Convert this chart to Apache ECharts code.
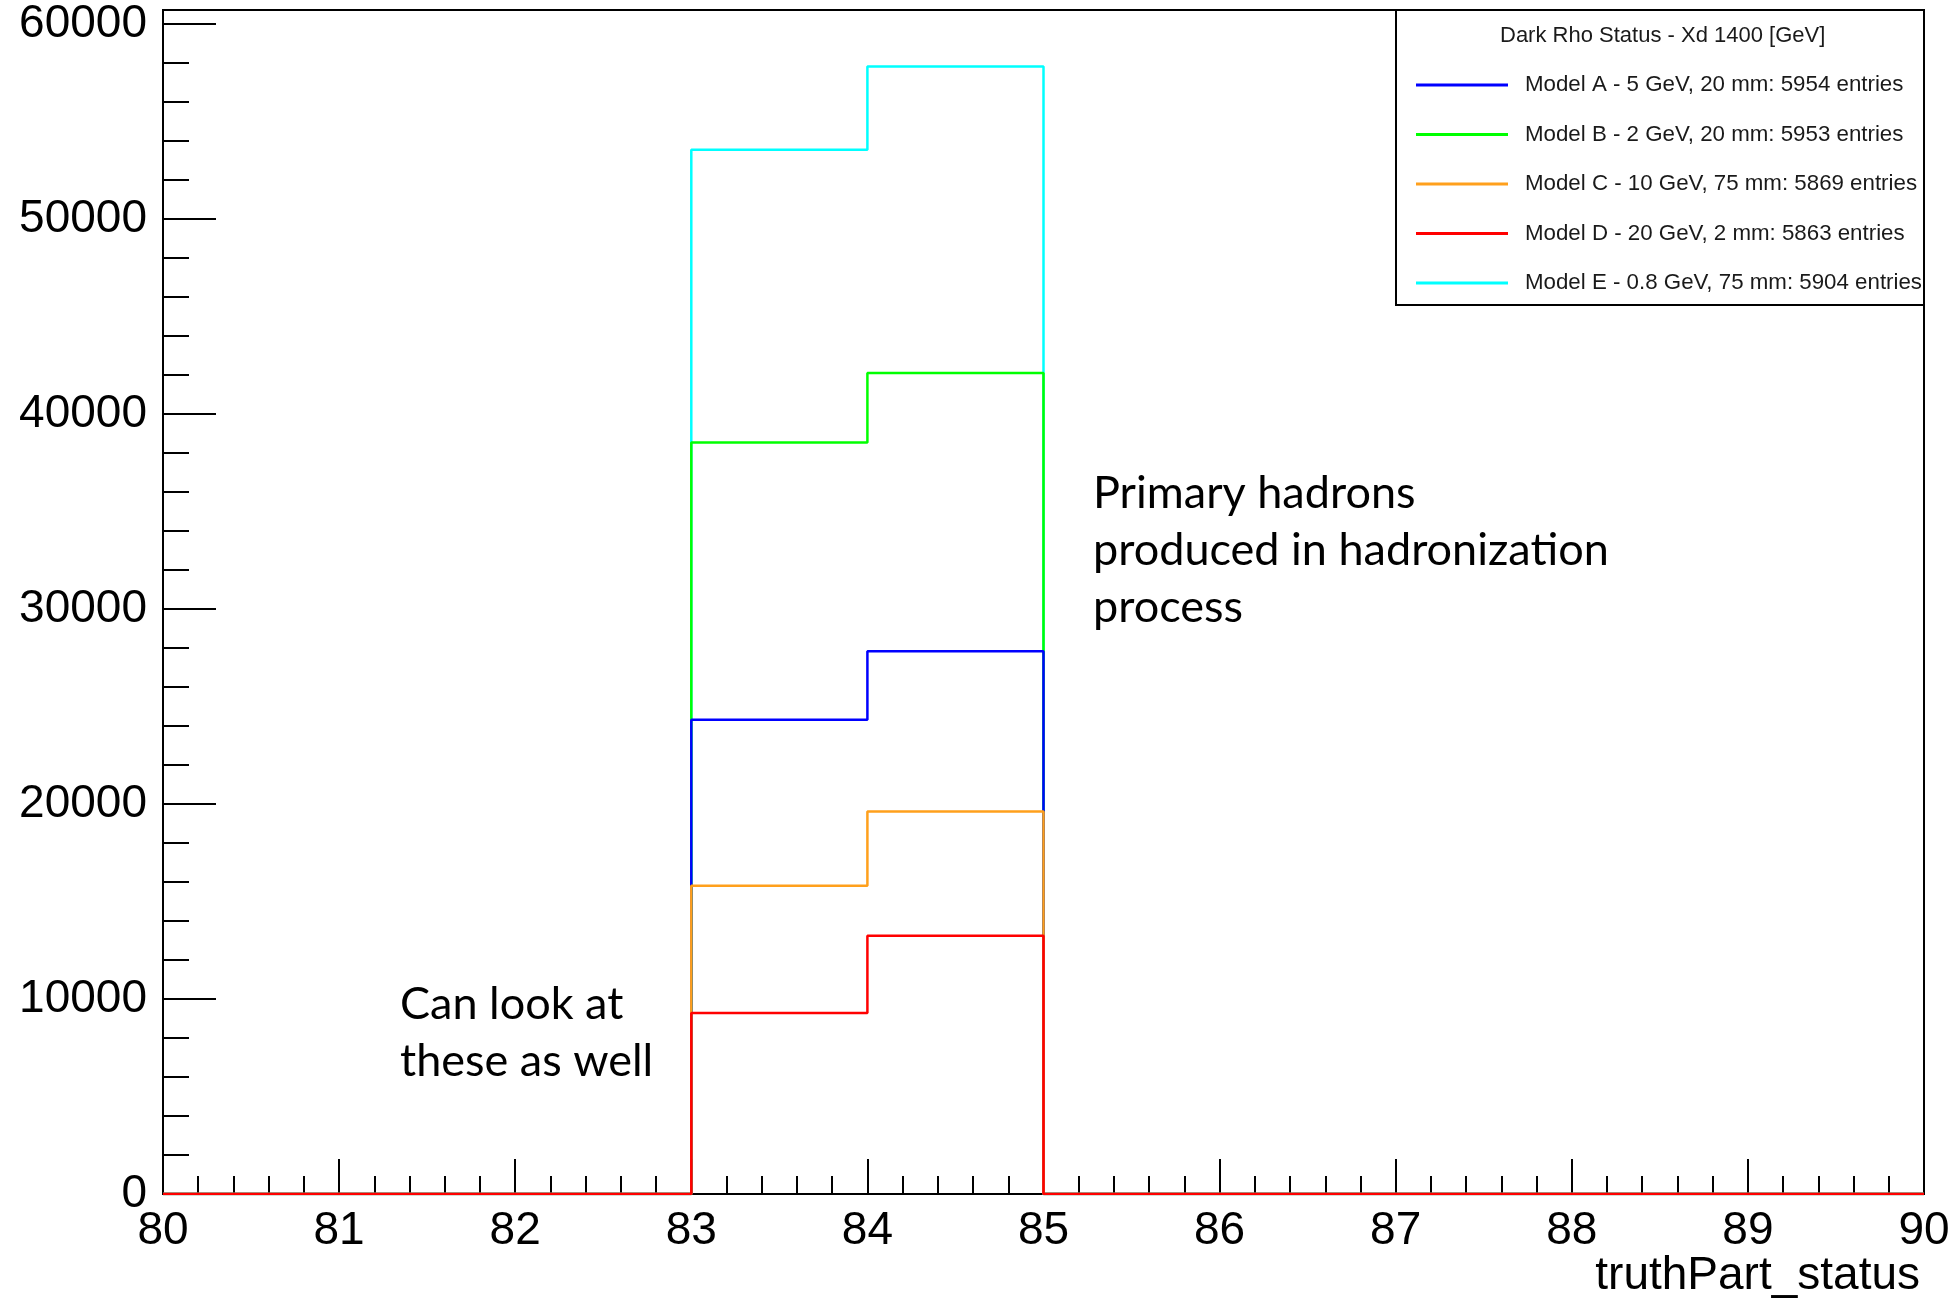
<!DOCTYPE html>
<html>
<head>
<meta charset="utf-8">
<title>Dark Rho Status - Xd 1400 [GeV]</title>
<script src="https://cdn.jsdelivr.net/npm/echarts@6/dist/echarts.min.js"></script>
<style>
  html, body { margin: 0; padding: 0; background: #fff; }
  #chart { width: 1959px; height: 1300px; }
</style>
</head>
<body>
<div id="chart"></div>
<script>
// Bin lower edges of truthPart_status (unit-width bins from 80 to 90)
const binEdges = [80, 81, 82, 83, 84, 85, 86, 87, 88, 89];
const binUpper = 90;

// Entries per bin for each model
const modelA = [0, 0, 0, 24320, 27830, 0, 0, 0, 0, 0];
const modelB = [0, 0, 0, 38540, 42100, 0, 0, 0, 0, 0];
const modelC = [0, 0, 0, 15810, 19620, 0, 0, 0, 0, 0];
const modelD = [0, 0, 0, 9280, 13250, 0, 0, 0, 0, 0];
const modelE = [0, 0, 0, 53550, 57830, 0, 0, 0, 0, 0];

const legendNames = [
  'Model A - 5 GeV, 20 mm: 5954 entries',
  'Model B - 2 GeV, 20 mm: 5953 entries',
  'Model C - 10 GeV, 75 mm: 5869 entries',
  'Model D - 20 GeV, 2 mm: 5863 entries',
  'Model E - 0.8 GeV, 75 mm: 5904 entries'
];
const legendTitle = 'Dark Rho Status - Xd 1400 [GeV]';
const xTitle = 'truthPart_status';

const yMajorTicks = [0, 10000, 20000, 30000, 40000, 50000, 60000];
const yMinorTicks = [0, 2000, 4000, 6000, 8000, 10000, 12000, 14000, 16000, 18000, 20000,
  22000, 24000, 26000, 28000, 30000, 32000, 34000, 36000, 38000, 40000,
  42000, 44000, 46000, 48000, 50000, 52000, 54000, 56000, 58000, 60000];

const colors = {
  A: '#0000ff',
  B: '#00ff00',
  C: '#ffa01c',
  D: '#ff0000',
  E: '#00ffff'
};

// Turn bin contents into step-line points: one point per lower edge plus the last upper edge
function histPoints(values) {
  const pts = binEdges.map((e, i) => [e, values[i]]);
  pts.push([binUpper, values[values.length - 1]]);
  return pts;
}

const allValues = [].concat(modelA, modelB, modelC, modelD, modelE);
const yMax = Math.max.apply(null, allValues) * 1.05;

const axisFont = 'Liberation Sans, Arial, Helvetica, sans-serif';

function histSeries(name, values, color) {
  return {
    name: name,
    type: 'line',
    step: 'end',
    data: histPoints(values),
    symbol: 'none',
    color: color,
    lineStyle: { color: color, width: 2.5 },
    silent: true,
    animation: false
  };
}

const chart = echarts.init(document.getElementById('chart'), null, { renderer: 'canvas' });

chart.setOption({
  backgroundColor: '#ffffff',
  animation: false,
  grid: {
    left: 163, right: 35, top: 10, bottom: 106,
    show: true, borderColor: '#000', borderWidth: 2, backgroundColor: 'transparent'
  },
  title: {
    text: legendTitle,
    left: 1500, top: 25, padding: 0,
    textStyle: { fontFamily: axisFont, fontSize: 22, fontWeight: 'normal', color: '#1a1a1a', lineHeight: 22 }
  },
  legend: {
    data: legendNames,
    orient: 'vertical',
    left: 1416, top: 72,
    padding: 0,
    itemWidth: 92, itemHeight: 3, itemGap: 23.5,
    icon: 'rect',
    selectedMode: false,
    textStyle: { fontFamily: axisFont, fontSize: 22.3, color: '#1a1a1a', lineHeight: 26, padding: [0, 0, 0, 12] }
  },
  xAxis: {
    type: 'value',
    min: 80, max: 90, interval: 1,
    axisLine: { show: true, onZero: false, lineStyle: { color: '#000', width: 2 } },
    axisTick: { show: true, inside: true, length: 35, lineStyle: { color: '#000', width: 2 } },
    minorTick: { show: true, splitNumber: 5, length: 18, lineStyle: { color: '#000', width: 2 } },
    splitLine: { show: false },
    axisLabel: { fontFamily: axisFont, fontSize: 46, color: '#000', margin: 14 }
  },
  yAxis: [
    {
      type: 'value',
      min: 0, max: yMax,
      axisLine: { show: true, lineStyle: { color: '#000', width: 2 } },
      axisTick: { show: true, inside: true, length: 53, customValues: yMajorTicks, lineStyle: { color: '#000', width: 2 } },
      splitLine: { show: false },
      axisLabel: {
        fontFamily: axisFont, fontSize: 46, color: '#000', margin: 16,
        customValues: yMajorTicks,
        formatter: (v) => String(Math.round(v))
      }
    },
    {
      type: 'value',
      position: 'left',
      min: 0, max: yMax,
      axisLine: { show: false },
      axisTick: { show: true, inside: true, length: 26, customValues: yMinorTicks, lineStyle: { color: '#000', width: 2 } },
      splitLine: { show: false },
      axisLabel: { show: false }
    }
  ],
  // Later series paint on top: red lies uppermost, cyan lowest
  series: [
    histSeries(legendNames[4], modelE, colors.E),
    histSeries(legendNames[1], modelB, colors.B),
    histSeries(legendNames[0], modelA, colors.A),
    histSeries(legendNames[2], modelC, colors.C),
    histSeries(legendNames[3], modelD, colors.D)
  ],
  graphic: [
    {
      type: 'rect', z: 1,
      shape: { x: 1396, y: 10, width: 528, height: 295 },
      style: { fill: '#fff', stroke: '#000', lineWidth: 2 }
    },
    {
      type: 'text', z: 5,
      style: {
        x: 1920, y: 1276, text: xTitle,
        align: 'right', verticalAlign: 'middle',
        font: '46px ' + axisFont, fill: '#000'
      }
    },
    {
      type: 'text', z: 5,
      style: {
        x: 1093, y: 465, text: 'Primary hadrons\nproduced in hadronization\nprocess',
        align: 'left', verticalAlign: 'top', lineHeight: 57,
        font: '45px Lato, "Open Sans", sans-serif', fill: '#000'
      }
    },
    {
      type: 'text', z: 5,
      style: {
        x: 400, y: 976, text: 'Can look at\nthese as well',
        align: 'left', verticalAlign: 'top', lineHeight: 57,
        font: '45px Lato, "Open Sans", sans-serif', fill: '#000'
      }
    }
  ]
});
</script>
</body>
</html>
